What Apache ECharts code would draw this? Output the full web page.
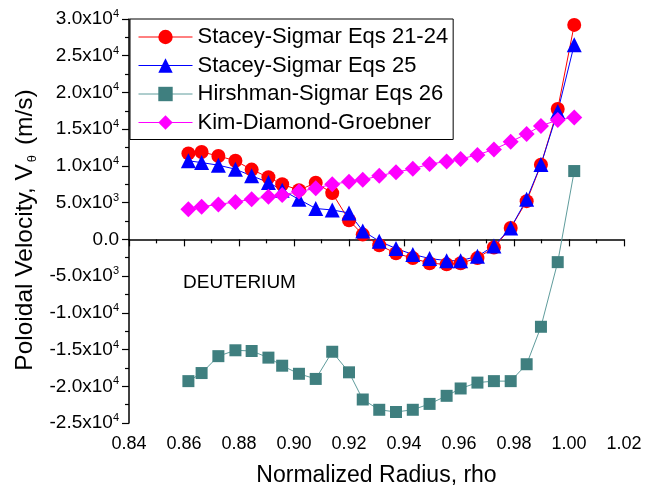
<!DOCTYPE html>
<html>
<head>
<meta charset="utf-8">
<script src="https://cdn.jsdelivr.net/npm/echarts@6/dist/echarts.min.js"></script>
<style>
  html, body { margin: 0; padding: 0; background: #fff; }
  #chart { width: 649px; height: 493px; }
</style>
</head>
<body>
<div id="chart"></div>
<script>
// normalized radius of each point
var rho = [0.8616, 0.8664, 0.8725, 0.8787, 0.8846, 0.8907, 0.8957, 0.9018, 0.9079, 0.9139,
           0.9200, 0.9250, 0.9310, 0.9371, 0.9432, 0.9493, 0.9555, 0.9606, 0.9667, 0.9727,
           0.9788, 0.9846, 0.9898, 0.9959, 1.0019];

var staceyEq2124 = [11700, 11900, 11350, 10700, 9500, 8450, 7500, 6700, 7700, 6300,
                    2600, 650, -800, -1900, -2550, -3250, -3400, -3250, -2550, -1100,
                    1550, 5200, 10150, 17750, 29200];

var staceyEq25 = [10700, 10450, 10100, 9550, 8650, 7750, 6700, 5450, 4200, 4000,
                  3600, 1150, -250, -1250, -2050, -2600, -2900, -2900, -2300, -900,
                  1550, 5450, 10200, 17400, 26500];

var hirshmanEq26 = [-19300, -18200, -15900, -15100, -15200, -16100, -17200, -18300, -19000, -15300,
                    -18100, -21800, -23200, -23500, -23200, -22400, -21300, -20300, -19500, -19300,
                    -19300, -17000, -11900, -3100, 9300];

var kimDiamond = [4100, 4450, 4750, 5100, 5450, 5800, 6050, 6500, 6950, 7500,
                  7850, 8100, 8650, 9150, 9600, 10250, 10600, 10950, 11500, 12250,
                  13300, 14350, 15450, 16250, 16600];

var seriesNames = ['Stacey-Sigmar Eqs 21-24', 'Stacey-Sigmar Eqs 25',
                   'Hirshman-Sigmar Eqs 26', 'Kim-Diamond-Groebner'];

var FONT = '"Liberation Sans", Arial, sans-serif';

function pairs(vals) {
    return vals.map(function (v, i) { return [rho[i], v]; });
}

function sciLabel(v) {
    if (Math.abs(v) < 1e-9) return '0.0';
    var e = Math.floor(Math.log10(Math.abs(v)) + 1e-9);
    var m = v / Math.pow(10, e);
    return m.toFixed(1) + 'x10{sup|' + e + '}';
}

var chart = echarts.init(document.getElementById('chart'));

var option = {
    animation: false,
    backgroundColor: '#fff',
    grid: { left: 129, right: 25, top: 19, bottom: 70 },
    legend: {
        data: seriesNames,
        orient: 'vertical',
        left: 130,
        top: 19,
        padding: [7, 5, 6, 8],
        itemWidth: 54,
        itemHeight: 18,
        itemGap: 6.5,
        lineStyle: { width: 1, color: 'inherit' },
        backgroundColor: '#fff',
        borderColor: '#000',
        borderWidth: 1,
        textStyle: { fontFamily: FONT, fontSize: 22, color: '#000', lineHeight: 22 }
    },
    xAxis: {
        type: 'value',
        min: 0.84,
        max: 1.02,
        interval: 0.02,
        name: 'Normalized Radius, rho',
        nameLocation: 'middle',
        nameGap: 41,
        nameTextStyle: { fontFamily: FONT, fontSize: 23, color: '#000' },
        axisLine: { lineStyle: { color: '#000', width: 1.5 } },
        axisTick: { length: 7, lineStyle: { color: '#000', width: 1.2 } },
        minorTick: { show: true, splitNumber: 2, length: 4, lineStyle: { color: '#000', width: 1.2 } },
        splitLine: { show: false },
        axisLabel: {
            fontFamily: FONT, fontSize: 18, color: '#000', margin: 12,
            formatter: function (v) { return v.toFixed(2); }
        }
    },
    yAxis: {
        type: 'value',
        min: -25000,
        max: 30000,
        interval: 5000,
        name: 'Poloidal Velocity, V{sub|θ} (m/s)',
        nameLocation: 'middle',
        nameRotate: 90,
        nameGap: 88,
        nameTextStyle: {
            fontFamily: FONT, fontSize: 24.5, color: '#000',
            padding: [0, 18, 0, 0],
            rich: {
                sub: { fontFamily: FONT, fontSize: 13, color: '#000', verticalAlign: 'top', padding: [13, 3, 0, 2] }
            }
        },
        axisLine: { show: true, lineStyle: { color: '#000', width: 1.5 } },
        axisTick: { show: true, length: 7, lineStyle: { color: '#000', width: 1.2 } },
        minorTick: { show: true, splitNumber: 2, length: 4, lineStyle: { color: '#000', width: 1.2 } },
        splitLine: { show: false },
        axisLabel: {
            fontFamily: FONT, fontSize: 19, color: '#000', margin: 10,
            formatter: sciLabel,
            rich: {
                sup: { fontFamily: FONT, fontSize: 11, color: '#000', verticalAlign: 'bottom', padding: [0, 0, 10, 0] }
            }
        }
    },
    graphic: [{
        type: 'text',
        left: 183,
        top: 273,
        style: { text: 'DEUTERIUM', fontFamily: FONT, fontSize: 19, fill: '#000' }
    }],
    series: [
        {
            name: seriesNames[0],
            type: 'line',
            data: pairs(staceyEq2124),
            symbol: 'circle',
            symbolSize: 14,
            itemStyle: { color: '#ff0000' },
            lineStyle: { color: '#ff0000', width: 1 }
        },
        {
            name: seriesNames[1],
            type: 'line',
            data: pairs(staceyEq25),
            symbol: 'triangle',
            symbolSize: 15,
            itemStyle: { color: '#0000ff' },
            lineStyle: { color: '#0000ff', width: 1 }
        },
        {
            name: seriesNames[2],
            type: 'line',
            data: pairs(hirshmanEq26),
            symbol: 'rect',
            symbolSize: 12,
            itemStyle: { color: '#3f7f7f' },
            lineStyle: { color: '#5f9c9c', width: 1 }
        },
        {
            name: seriesNames[3],
            type: 'line',
            data: pairs(kimDiamond),
            symbol: 'diamond',
            symbolSize: 16,
            itemStyle: { color: '#ff00ff' },
            lineStyle: { color: '#ff00ff', width: 1 }
        }
    ]
};

chart.setOption(option);
</script>
</body>
</html>
